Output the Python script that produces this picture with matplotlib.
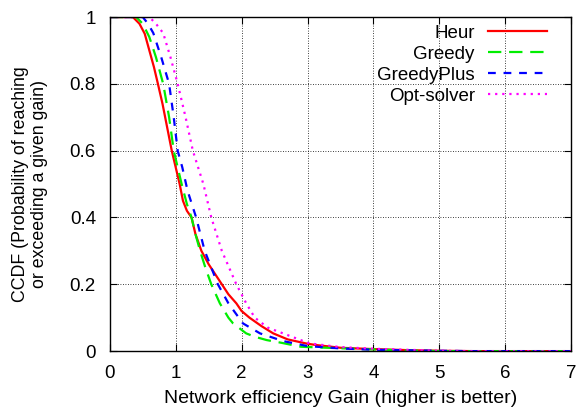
import matplotlib
matplotlib.use('Agg')
import matplotlib.pyplot as plt

plt.rcParams['font.family'] = ['Liberation Sans', 'DejaVu Sans']

# values (gain, CCDF)
heur_x = [0, 0.35, 0.45, 0.53, 0.6, 0.67, 0.73, 0.8, 0.87, 0.94, 1.0, 1.06, 1.11, 1.17, 1.24, 1.3, 1.39,
          1.5, 1.6, 1.7, 1.8, 1.92, 2.0, 2.12, 2.3, 2.48, 2.7, 3.0, 3.14, 3.5, 4.0, 4.5, 5.0, 5.5, 7]
heur_y = [1, 1.0, 0.98, 0.95, 0.9, 0.85, 0.80, 0.74, 0.67, 0.60, 0.55, 0.50, 0.45, 0.42, 0.40, 0.35, 0.30,
          0.26, 0.23, 0.20, 0.17, 0.143, 0.12, 0.10, 0.075, 0.053, 0.035, 0.022, 0.018, 0.01, 0.006, 0.003, 0.001, 0, 0]

greedy_x = [0, 0.40, 0.5, 0.6, 0.7, 0.81, 0.9, 0.97, 1.03, 1.09, 1.17, 1.24, 1.3, 1.37, 1.45, 1.54, 1.67,
            1.8, 1.87, 2.07, 2.2, 2.38, 2.6, 2.9, 3.3, 4.0, 4.5, 5.0, 7]
greedy_y = [1, 1.0, 0.98, 0.94, 0.88, 0.80, 0.70, 0.60, 0.55, 0.50, 0.44, 0.40, 0.35, 0.30, 0.25, 0.20, 0.143,
            0.10, 0.083, 0.053, 0.043, 0.033, 0.025, 0.013, 0.01, 0.005, 0.002, 0, 0]

gplus_x = [0, 0.5, 0.58, 0.66, 0.78, 0.9, 0.97, 1.03, 1.1, 1.18, 1.31, 1.44, 1.64, 1.8, 2.02, 2.28, 2.63,
           3.0, 3.5, 4.0, 5.0, 5.5, 7]
gplus_y = [1, 1.0, 0.98, 0.952, 0.88, 0.80, 0.70, 0.60, 0.55, 0.48, 0.40, 0.30, 0.20, 0.143, 0.083, 0.053, 0.03,
           0.015, 0.008, 0.004, 0.001, 0, 0]

opt_x = [0, 0.6, 0.7, 0.81, 0.92, 1.03, 1.15, 1.26, 1.42, 1.54, 1.70, 1.92, 2.07, 2.2, 2.4, 2.63, 3.03,
         3.5, 4.0, 4.5, 5.0, 5.5, 7]
opt_y = [1, 1.0, 0.98, 0.952, 0.88, 0.80, 0.70, 0.60, 0.50, 0.40, 0.30, 0.20, 0.143, 0.10, 0.07, 0.053, 0.023,
         0.012, 0.007, 0.004, 0.001, 0, 0]

fig = plt.figure(figsize=(5.81, 4.16), dpi=100)
ax = fig.add_axes([0.189, 0.156, 0.794, 0.803])

ax.plot(heur_x, heur_y, color='#ff0000', lw=1.6, label='Heur')
ax.plot(greedy_x, greedy_y, color='#00ee00', lw=1.6, dashes=(6, 3.5), label='Greedy')
ax.plot(gplus_x, gplus_y, color='#0000ff', lw=1.6, dashes=(3.5, 3.5), label='GreedyPlus')
ax.plot(opt_x, opt_y, color='#ff00ff', lw=1.6, dashes=(1, 2.2), label='Opt-solver')

ax.set_xlim(0, 7)
ax.set_ylim(0, 1)
ax.set_xticks(range(8))
ax.set_yticks([0, 0.2, 0.4, 0.6, 0.8, 1])
ax.set_yticklabels(['0', '0.2', '0.4', '0.6', '0.8', '1'])
ax.tick_params(direction='in', top=True, right=True, labelsize=13.5, length=5, pad=10)
ax.grid(True, color='black', linestyle=(0, (1, 2)), lw=0.6)
for s in ax.spines.values():
    s.set_linewidth(1.0)

ax.set_xlabel('Network efficiency Gain (higher is better)', fontsize=14)
ax.set_ylabel('CCDF (Probability of reaching\nor exceeding a given gain)', fontsize=12.8)
ax.xaxis.set_label_coords(0.5, -0.115)
ax.yaxis.set_label_coords(-0.133, 0.5)

leg = ax.legend(loc='upper right', frameon=False, markerfirst=False, fontsize=13.5,
                handlelength=3.15, handletextpad=0.7, labelspacing=0.2,
                borderaxespad=0, bbox_to_anchor=(0.964, 0.999))
for t in leg.get_texts():
    t.set_ha('right')

fig.savefig('out.png', dpi=100)
